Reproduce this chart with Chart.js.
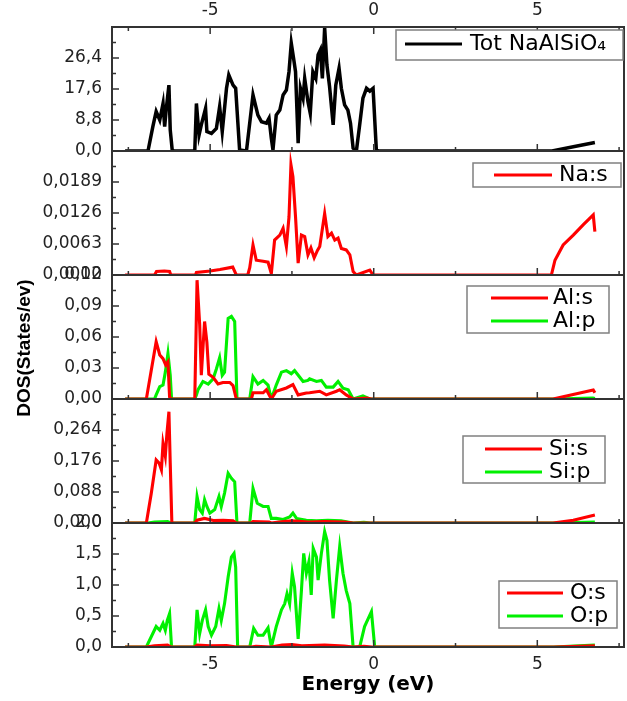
<!DOCTYPE html>
<html><head><meta charset="utf-8">
<script src="https://cdn.jsdelivr.net/npm/chart.js@4.4.1/dist/chart.umd.min.js"></script>
<style>
html,body{margin:0;padding:0;background:#fff;}
#wrap{position:relative;width:627px;height:701px;overflow:hidden;}
canvas{position:absolute;left:0;top:0;}
</style></head><body><div id="wrap">
<canvas id="c0" width="627" height="701"></canvas>
<canvas id="c1" width="627" height="701"></canvas>
<canvas id="c2" width="627" height="701"></canvas>
<canvas id="c3" width="627" height="701"></canvas>
<canvas id="c4" width="627" height="701"></canvas>
</div>
<script>
// ---------------- DATA ----------------
const xTitle = 'Energy (eV)';
const yTitle = 'DOS(States/ev)';
const xTickLabels = [-5, 0, 5];
const xMinorTicks = [-7.5, -2.5, 2.5, 7.5];

const totLabel = 'Tot NaAlSiO\u2084';
const totE = [-7.6,-6.9,-6.75,-6.65,-6.54,-6.44,-6.39,-6.34,-6.26,-6.22,-6.16,-6.1,-5.47,-5.42,-5.34,-5.27,-5.14,-5.10,-4.96,-4.81,-4.71,-4.63,-4.50,-4.43,-4.30,-4.22,-4.10,-3.89,-3.69,-3.54,-3.43,-3.28,-3.20,-3.13,-3.08,-2.98,-2.87,-2.77,-2.67,-2.59,-2.52,-2.45,-2.39,-2.31,-2.24,-2.16,-2.11,-2.01,-1.94,-1.86,-1.77,-1.70,-1.63,-1.57,-1.50,-1.43,-1.35,-1.24,-1.16,-1.06,-0.99,-0.89,-0.79,-0.71,-0.63,-0.53,-0.43,-0.33,-0.22,-0.12,-0.02,0.08,0.15,5.45,6.1,6.76];
const totV = [0,0,7,11.2,8.8,13.5,6.9,12.1,18.7,6.0,0.3,0,0,13.5,4.5,7.4,12.1,5.5,5.0,6.4,12.6,5.5,17.8,21.6,18.7,17.8,0.3,0,15.9,10.2,8.3,7.9,9.3,3.6,0.3,10.2,11.6,15.9,17.3,22.5,30.6,26.3,22.5,2.2,17.8,15.0,20.6,14.0,10.7,22.5,20.6,27.3,28.7,20.6,35.0,24.4,18.3,7.4,18.7,23.5,17.8,13.1,11.6,7.9,0.8,0,7.4,15,17.8,17,17.8,0.3,0,0,1.2,2.4];

const naLabel = 'Na:s';
const naE = [-7.6,-6.7,-6.64,-6.4,-6.24,-6.2,-5.45,-5.42,-5.0,-4.7,-4.31,-4.2,-3.85,-3.79,-3.69,-3.59,-3.38,-3.23,-3.13,-3.03,-2.87,-2.77,-2.67,-2.59,-2.53,-2.47,-2.39,-2.31,-2.21,-2.11,-2.01,-1.92,-1.82,-1.72,-1.65,-1.50,-1.40,-1.29,-1.19,-1.09,-0.99,-0.84,-0.73,-0.63,-0.53,-0.12,-0.02,5.43,5.54,5.79,6.10,6.40,6.71,6.76];
const naV = [0,0,0.0007,0.0008,0.0007,0,0,0.0005,0.0008,0.0011,0.0016,0,0,0.0015,0.0061,0.003,0.0028,0.0026,0.0003,0.0071,0.0081,0.0095,0.0058,0.0118,0.0224,0.020,0.0118,0.0024,0.0081,0.0078,0.0041,0.0055,0.0035,0.005,0.0058,0.0125,0.0078,0.0085,0.0071,0.0075,0.0054,0.0051,0.0041,0.0007,0,0.001,0,0,0.003,0.0061,0.0081,0.0102,0.0122,0.0088];

const alsLabel = 'Al:s';
const alsE = [-7.6,-6.95,-6.65,-6.54,-6.44,-6.36,-6.29,-6.24,-6.2,-5.47,-5.40,-5.32,-5.27,-5.17,-5.10,-5.04,-4.91,-4.76,-4.61,-4.40,-4.30,-4.20,-3.74,-3.69,-3.38,-3.28,-3.13,-2.98,-2.67,-2.47,-2.31,-2.06,-1.96,-1.65,-1.45,-1.14,-1.04,-0.84,-0.63,-0.22,-0.07,5.48,6.71,6.76];
const alsV = [0,0,0.0555,0.0426,0.039,0.033,0.036,0.002,0,0,0.115,0.072,0.023,0.075,0.055,0.024,0.021,0.0145,0.016,0.016,0.013,0,0,0.006,0.006,0.009,0,0.0075,0.0107,0.0139,0.004,0.0058,0.006,0.0075,0.004,0.0075,0.009,0.004,0,0.001,0,0,0.0087,0.006];

const alpLabel = 'Al:p';
const alpE = [-7.6,-6.7,-6.65,-6.54,-6.44,-6.37,-6.29,-6.22,-6.18,-5.47,-5.42,-5.37,-5.22,-5.06,-4.91,-4.81,-4.71,-4.63,-4.56,-4.45,-4.35,-4.25,-4.18,-3.79,-3.69,-3.54,-3.38,-3.23,-3.13,-2.98,-2.82,-2.67,-2.52,-2.42,-2.26,-2.16,-2.01,-1.96,-1.75,-1.60,-1.45,-1.24,-1.09,-0.94,-0.78,-0.63,-0.33,-0.12,5.5,6.7,6.76];
const alpV = [0,0,0.004,0.012,0.0135,0.026,0.044,0.023,0,0,0.004,0.009,0.017,0.0145,0.0195,0.029,0.04,0.023,0.026,0.078,0.08,0.075,0,0,0.0216,0.0145,0.018,0.0135,0,0.0135,0.026,0.0275,0.0245,0.0275,0.021,0.017,0.018,0.0195,0.017,0.018,0.0115,0.0115,0.017,0.0105,0.009,0,0.003,0,0,0.001,0.0005];

const sisLabel = 'Si:s';
const sisE = [-7.6,-6.95,-6.80,-6.65,-6.56,-6.49,-6.44,-6.37,-6.32,-6.26,-6.22,-6.17,-5.47,-5.40,-5.17,-4.9,-4.6,-4.3,-4.2,-3.75,-3.69,-3.2,-3.13,-2.9,-2.5,-2.0,-1.5,-0.9,-0.63,5.48,6.1,6.76];
const sisV = [0,0,0.084,0.179,0.17,0.151,0.226,0.19,0.255,0.316,0.17,0,0,0.008,0.013,0.007,0.008,0.006,0,0,0.004,0.003,0,0.003,0.006,0.003,0.004,0.003,0,0,0.008,0.023];

const sipLabel = 'Si:p';
const sipE = [-7.6,-6.9,-6.7,-6.3,-6.2,-5.47,-5.40,-5.32,-5.24,-5.17,-5.10,-5.01,-4.86,-4.73,-4.66,-4.56,-4.45,-4.35,-4.25,-4.18,-3.79,-3.69,-3.56,-3.38,-3.23,-3.13,-2.98,-2.77,-2.57,-2.47,-2.36,-2.06,-1.75,-1.4,-1.0,-0.63,-0.3,-0.1,5.5,6.76];
const sipV = [0,0,0.003,0.004,0,0,0.075,0.038,0.028,0.066,0.047,0.028,0.038,0.075,0.047,0.085,0.141,0.127,0.117,0,0,0.098,0.056,0.047,0.047,0.013,0.013,0.01,0.017,0.028,0.013,0.008,0.006,0.008,0.006,0,0.002,0,0,0.003];

const osLabel = 'O:s';
const osE = [-7.6,-6.95,-6.7,-6.3,-6.2,-5.47,-5.4,-5.0,-4.5,-4.2,-3.75,-3.6,-3.13,-2.8,-2.5,-2.2,-1.5,-0.9,-0.63,-0.3,-0.05,5.5,6.76];
const osV = [0,0,0.02,0.03,0,0,0.03,0.02,0.025,0,0,0.01,0,0.03,0.04,0.02,0.03,0.015,0,0.01,0,0,0.02];

const opLabel = 'O:p';
const opE = [-7.6,-6.95,-6.65,-6.54,-6.44,-6.37,-6.31,-6.24,-6.18,-5.47,-5.40,-5.32,-5.24,-5.14,-5.06,-4.96,-4.83,-4.73,-4.66,-4.56,-4.45,-4.35,-4.27,-4.22,-4.16,-3.79,-3.67,-3.54,-3.38,-3.23,-3.13,-2.98,-2.82,-2.72,-2.65,-2.57,-2.49,-2.42,-2.31,-2.21,-2.14,-2.06,-1.98,-1.91,-1.85,-1.75,-1.70,-1.60,-1.50,-1.43,-1.35,-1.24,-1.14,-1.04,-0.94,-0.84,-0.73,-0.63,-0.43,-0.28,-0.07,0.03,5.5,6.76];
const opV = [0,0,0.33,0.27,0.38,0.27,0.43,0.54,0,0,0.60,0.22,0.43,0.60,0.33,0.19,0.33,0.62,0.43,0.70,1.13,1.45,1.51,1.29,0,0,0.30,0.19,0.19,0.31,0,0.33,0.60,0.70,0.86,0.70,1.19,0.97,0.13,0.91,1.51,1.19,1.38,0.84,1.59,1.45,1.08,1.51,1.86,1.72,1.08,0.46,1.08,1.62,1.19,0.91,0.70,0,0,0.33,0.57,0,0,0.03];

const yTicks1 = [0, 8.8, 17.6, 26.4];
const yTicks2 = [0, 0.0063, 0.0126, 0.0189];
const yTicks3 = [0, 0.03, 0.06, 0.09, 0.12];
const yTicks4 = [0, 0.088, 0.176, 0.264];
const yTicks5 = [0, 0.5, 1.0, 1.5, 2.0];

// ---------------- LAYOUT / STYLE ----------------
const W = 627, H = 701;
const X_MIN = -8.0, X_MAX = 7.65;
const PLOT_LEFT = 112, PLOT_RIGHT_PAD = 3;
const RED = '#ff0000', GREEN = '#00f000', BLACK = '#000000';
const TICK_FONT = {family: '"DejaVu Sans", sans-serif', size: 17};

const panels = [
  {top: 27, bottom: 151, yMax: 35.2, step: 8.8, ticks: yTicks1, dec: 1,
   series: [[totLabel, totE, totV, BLACK]],
   legend: {x: 396, y: 30, w: 227, h: 30, lineX: 405, lineW: 57, textX: 470, rows: [44]}},
  {top: 151, bottom: 275, yMax: 0.0252, step: 0.0063, ticks: yTicks2, dec: 4,
   series: [[naLabel, naE, naV, RED]],
   legend: {x: 473, y: 163, w: 148, h: 24, lineX: 494, lineW: 58, textX: 559, rows: [175]}},
  {top: 275, bottom: 399, yMax: 0.12, step: 0.03, ticks: yTicks3, dec: 2,
   series: [[alsLabel, alsE, alsV, RED], [alpLabel, alpE, alpV, GREEN]],
   legend: {x: 467, y: 286, w: 142, h: 47, lineX: 491, lineW: 57, textX: 553, rows: [298, 321]}},
  {top: 399, bottom: 523, yMax: 0.352, step: 0.088, ticks: yTicks4, dec: 3,
   series: [[sisLabel, sisE, sisV, RED], [sipLabel, sipE, sipV, GREEN]],
   legend: {x: 463, y: 436, w: 142, h: 47, lineX: 485, lineW: 57, textX: 549, rows: [449, 472]}},
  {top: 523, bottom: 647, yMax: 2.0, step: 0.5, ticks: yTicks5, dec: 1,
   series: [[osLabel, osE, osV, RED], [opLabel, opE, opV, GREEN]],
   legend: {x: 499, y: 581, w: 118, h: 47, lineX: 507, lineW: 56, textX: 570, rows: [593, 616]}}
];

function toPoints(e, v) { return e.map((x, i) => ({x: x, y: v[i]})); }
function fmt(v, dec) { return Number(v).toFixed(dec).replace('.', ','); }

function makeFramePlugin(p, idx) {
  return {
    id: 'frame' + idx,
    afterDatasetsDraw(chart) {
      const ctx = chart.ctx, a = chart.chartArea;
      const xs = chart.scales.x, ys = chart.scales.y;
      ctx.save();
      ctx.strokeStyle = '#333';
      ctx.lineWidth = 2;
      ctx.strokeRect(a.left, a.top, a.right - a.left, a.bottom - a.top);
      ctx.lineWidth = 1.5;
      ctx.beginPath();
      for (let v = 0; v <= p.yMax + 1e-9; v += p.step) {
        const y = ys.getPixelForValue(v);
        ctx.moveTo(a.left, y); ctx.lineTo(a.left + 7, y);
        const vm = v + p.step / 2;
        if (vm < p.yMax) {
          const ym = ys.getPixelForValue(vm);
          ctx.moveTo(a.left, ym); ctx.lineTo(a.left + 4, ym);
        }
      }
      xTickLabels.forEach(v => {
        const x = xs.getPixelForValue(v);
        ctx.moveTo(x, a.bottom); ctx.lineTo(x, a.bottom - 7);
        if (idx === 0) { ctx.moveTo(x, a.top); ctx.lineTo(x, a.top + 7); }
      });
      xMinorTicks.forEach(v => {
        const x = xs.getPixelForValue(v);
        ctx.moveTo(x, a.bottom); ctx.lineTo(x, a.bottom - 4);
        if (idx === 0) { ctx.moveTo(x, a.top); ctx.lineTo(x, a.top + 4); }
      });
      ctx.stroke();

      const L = p.legend;
      ctx.fillStyle = '#fff';
      ctx.fillRect(L.x, L.y, L.w, L.h);
      ctx.strokeStyle = '#808080';
      ctx.lineWidth = 1.5;
      ctx.strokeRect(L.x, L.y, L.w, L.h);
      ctx.font = '22px "DejaVu Sans", sans-serif';
      ctx.textBaseline = 'middle';
      ctx.textAlign = 'left';
      chart.data.datasets.forEach((ds, i) => {
        const ry = L.rows[i];
        ctx.strokeStyle = ds.borderColor;
        ctx.lineWidth = 2.8;
        ctx.beginPath();
        ctx.moveTo(L.lineX, ry); ctx.lineTo(L.lineX + L.lineW, ry);
        ctx.stroke();
        ctx.fillStyle = '#000';
        ctx.fillText(ds.label, L.textX, ry);
      });

      if (idx === 2) {
        ctx.save();
        ctx.translate(25, 348);
        ctx.rotate(-Math.PI / 2);
        ctx.font = 'bold 19px "Liberation Sans", Arial, sans-serif';
        ctx.fillStyle = '#000';
        ctx.textAlign = 'center';
        ctx.textBaseline = 'middle';
        ctx.fillText(yTitle, 0, 0);
        ctx.restore();
      }
      ctx.restore();
    }
  };
}

panels.forEach((p, idx) => {
  const isFirst = idx === 0, isLast = idx === panels.length - 1;
  const scales = {
    x: {
      type: 'linear', min: X_MIN, max: X_MAX,
      display: isLast, position: 'bottom',
      afterBuildTicks: s => { s.ticks = xTickLabels.map(v => ({value: v})); },
      afterFit: s => { if (isLast) s.height = H - p.bottom; },
      grid: {display: false, drawTicks: false},
      border: {display: false},
      ticks: {font: TICK_FONT, color: '#222', padding: 7, maxRotation: 0, autoSkip: false,
              callback: v => String(v)},
      title: {display: isLast, text: xTitle, color: '#000',
              font: {family: '"DejaVu Sans", sans-serif', size: 20, weight: 'bold'},
              padding: {top: 2, bottom: 4}}
    },
    y: {
      type: 'linear', min: 0, max: p.yMax, position: 'left',
      afterBuildTicks: s => { s.ticks = p.ticks.map(v => ({value: v})); },
      afterFit: s => { s.width = PLOT_LEFT; },
      grid: {display: false, drawTicks: false},
      border: {display: false},
      ticks: {font: TICK_FONT, color: '#222', padding: 10, autoSkip: false,
              callback: v => fmt(v, p.dec)}
    }
  };
  if (isFirst) {
    scales.xTop = {
      type: 'linear', min: X_MIN, max: X_MAX, position: 'top', display: true,
      afterBuildTicks: s => { s.ticks = xTickLabels.map(v => ({value: v})); },
      afterFit: s => { s.height = p.top; },
      grid: {display: false, drawTicks: false},
      border: {display: false},
      ticks: {font: TICK_FONT, color: '#222', padding: 6, maxRotation: 0, autoSkip: false,
              callback: v => String(v)}
    };
  }
  new Chart(document.getElementById('c' + idx), {
    type: 'line',
    data: {
      datasets: p.series.map(s => ({
        label: s[0], data: toPoints(s[1], s[2]),
        borderColor: s[3], borderWidth: s[3] === BLACK ? 3.5 : 3.1,
        pointRadius: 0, tension: 0, fill: false
      }))
    },
    options: {
      responsive: false, animation: false, devicePixelRatio: 1,
      layout: {padding: {left: 0, right: PLOT_RIGHT_PAD,
                         top: isFirst ? 0 : p.top,
                         bottom: isLast ? 0 : H - p.bottom}},
      plugins: {legend: {display: false}, tooltip: {enabled: false}},
      scales: scales
    },
    plugins: [makeFramePlugin(p, idx)]
  });
});
</script>
</body></html>
